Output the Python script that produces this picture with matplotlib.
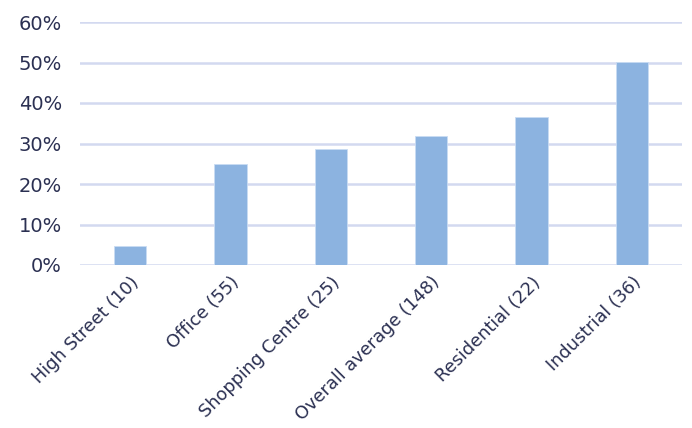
import matplotlib
matplotlib.use("Agg")
import matplotlib.pyplot as plt
from matplotlib.ticker import PercentFormatter

categories = ["High Street (10)", "Office (55)", "Shopping Centre (25)",
              "Overall average (148)", "Residential (22)", "Industrial (36)"]
values = [0.048, 0.249, 0.286, 0.319, 0.365, 0.501]
yticks = [0.0, 0.1, 0.2, 0.3, 0.4, 0.5, 0.6]

text_color = "#2b3052"
bar_color = "#8cb3e0"
grid_color = "#d3d9f0"

plt.rcParams["font.family"] = ["DejaVu Sans"]

fig = plt.figure(figsize=(6.92, 4.28), dpi=100)
ax = fig.add_axes([80 / 692, 1 - 265 / 428, 602 / 692, 243 / 428])

x = range(len(categories))
ax.bar(x, values, width=0.32, color=bar_color, edgecolor="#c9dcf3",
       linewidth=0.6, zorder=3)

ax.set_xlim(-0.5, len(categories) - 0.5)
ax.set_ylim(0, 0.6)
ax.set_yticks(yticks)
ax.yaxis.set_major_formatter(PercentFormatter(1.0, decimals=0))
ax.grid(axis="y", color=grid_color, linewidth=1.8, zorder=0)
ax.set_axisbelow(True)
for s in ax.spines.values():
    s.set_visible(False)
ax.tick_params(axis="both", length=0, colors=text_color)
ax.tick_params(axis="y", pad=13, labelsize=14)
ax.set_xticks(list(x))
ax.set_xticklabels(categories, rotation=45, ha="right", rotation_mode="anchor",
                   fontsize=12.8)
ax.tick_params(axis="x", pad=6)
for lbl in ax.get_yticklabels() + ax.get_xticklabels():
    lbl.set_color(text_color)

fig.savefig("out.png", dpi=100)
